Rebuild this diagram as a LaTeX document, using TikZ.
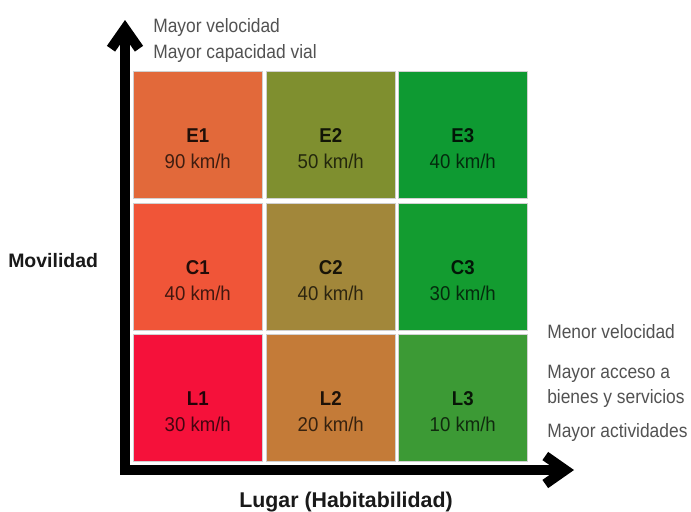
\documentclass[tikz,border=0pt]{standalone}
\usepackage{fontspec}
\setmainfont{Liberation Sans}
\newfontfamily\condfont[FakeStretch=0.93]{Liberation Sans}
\newfontfamily\notefont[FakeStretch=0.9]{Liberation Sans}
\usetikzlibrary{arrows.meta,calc}
\definecolor{cE1}{HTML}{E2693A}
\definecolor{cE2}{HTML}{7F8F2F}
\definecolor{cE3}{HTML}{0E9A32}
\definecolor{cC1}{HTML}{F05538}
\definecolor{cC2}{HTML}{A2873A}
\definecolor{cC3}{HTML}{139C30}
\definecolor{cL1}{HTML}{F5113A}
\definecolor{cL2}{HTML}{C47B38}
\definecolor{cL3}{HTML}{3C9A35}
\begin{document}
\begin{tikzpicture}[x=0.75pt,y=-0.75pt,
  cell/.style={draw=black!18, line width=0.4pt, minimum width=96.75pt, minimum height=95.25pt, inner sep=0pt, anchor=north west},
  code/.style={font=\condfont\bfseries\fontsize{15}{18}\selectfont, text=black, text opacity=0.85, anchor=base, inner sep=0pt},
  speed/.style={font=\condfont\fontsize{15}{18}\selectfont, text=black, text opacity=0.72, anchor=base, inner sep=0pt},
  note/.style={font=\notefont\fontsize{14.5}{17}\selectfont, text=black!68, anchor=base west, inner sep=0pt},
  axislabel/.style={font=\bfseries\fontsize{14.6}{17}\selectfont, text=black!90, inner sep=0pt},
  axis/.style={line width=7.5pt, line join=miter, {Straight Barb[length=15pt,width=21pt]}-{Straight Barb[length=15pt,width=21pt]}}
]
\useasboundingbox[fill=white] (0,0) rectangle (691,511);

% cells
\node[cell, fill=cE1] (E1) at (133,71) {};
\node[cell, fill=cE2] (E2) at (266,71) {};
\node[cell, fill=cE3] (E3) at (398,71) {};
\node[cell, fill=cC1] (C1) at (133,203) {};
\node[cell, fill=cC2] (C2) at (266,203) {};
\node[cell, fill=cC3] (C3) at (398,203) {};
\node[cell, fill=cL1] (L1) at (133,334) {};
\node[cell, fill=cL2] (L2) at (266,334) {};
\node[cell, fill=cL3] (L3) at (398,334) {};

% cell texts
\foreach \c/\s in {E1/90, E2/50, E3/40, C1/40, C2/40, C3/30, L1/30, L2/20, L3/10}{
  \node[code] (\c-code) at ($(\c.center)+(0,7.5)$) {\c};
  \node[speed] (\c-speed) at ($(\c.center)+(0,34)$) {\s\ km/h};
}

% axes
\coordinate (ytip) at (125,20);
\coordinate (orig) at (125,470);
\coordinate (xtip) at (574,470);
\draw[axis] (ytip) -- (orig) -- (xtip);

% notes
\node[note] (n1) at (153,32) {Mayor velocidad};
\node[note] (n2) at (153,58) {Mayor capacidad vial};
\node[note] (n3) at (547,338) {Menor velocidad};
\node[note] (n4) at (547,378) {Mayor acceso a};
\node[note] (n5) at (547,403) {bienes y servicios};
\node[note] (n6) at (547,437) {Mayor actividades};

% axis labels
\node[axislabel, anchor=base west] (mov) at (8,267) {Movilidad};
\node[axislabel, anchor=base, font=\bfseries\fontsize{16}{19}\selectfont] (lug) at (346,507) {Lugar (Habitabilidad)};
\end{tikzpicture}
\end{document}
